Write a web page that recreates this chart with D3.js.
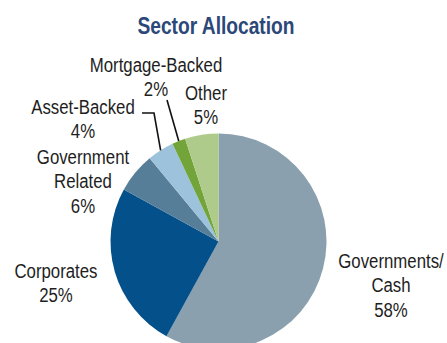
<!DOCTYPE html>
<html>
<head>
<meta charset="utf-8">
<script src="https://cdn.jsdelivr.net/npm/d3@7"></script>
<style>
  html, body { margin: 0; padding: 0; background: #fff; }
  svg { display: block; }
  text { font-family: "Liberation Sans", Arial, sans-serif; }
</style>
</head>
<body>
<svg id="chart" width="447" height="343"></svg>
<script>
// Sector weights, drawn clockwise from 12 o'clock
const sectors = ["Governments/Cash", "Corporates", "Government Related", "Asset-Backed", "Mortgage-Backed", "Other"];
const weights = [58, 25, 6, 4, 2, 5];
const sliceColors = ["#8aa0ae", "#03508a", "#577e99", "#9cc2dc", "#72a43a", "#afcb8c"];

// Label lines for each sector (name lines followed by the value)
const labelLines = [
  ["Governments/", "Cash"],
  ["Corporates"],
  ["Government", "Related"],
  ["Asset-Backed"],
  ["Mortgage-Backed"],
  ["Other"]
];
// Label anchor: centre x and first baseline y
const labelPos = [
  [391, 268],
  [56, 278],
  [83, 164],
  [83, 114],
  [156, 72],
  [206, 100]
];
const lineStep = 24.5;
const narrow = 0.8; // horizontal squeeze for a condensed type look

const width = 447, height = 343;
const cx = 218.5, cy = 241.5, radius = 108;

const svg = d3.select("#chart");

// Condensed text block centred at x
function condensed(x, size) {
  return svg.append("g")
    .attr("transform", `translate(${x},0) scale(${narrow},1)`)
    .append("text")
    .attr("text-anchor", "middle")
    .attr("font-size", size);
}

condensed(216, 24)
  .attr("y", 34)
  .attr("font-weight", "bold")
  .attr("fill", "#2b4878")
  .text("Sector Allocation");

const data = sectors.map((s, i) => ({ name: s, value: weights[i], i }));
const pie = d3.pie().value(d => d.value).sort(null);
const arcs = pie(data);
const arc = d3.arc().innerRadius(0).outerRadius(radius);
const rim = d3.arc().innerRadius(radius).outerRadius(radius);

const g = svg.append("g").attr("transform", `translate(${cx},${cy})`);
g.selectAll("path")
  .data(arcs)
  .join("path")
  .attr("d", arc)
  .attr("fill", d => sliceColors[d.data.i]);

// Leader lines for the two narrow slices
const leaders = {
  3: [[142, 113], [154, 113]],
  4: [[167, 100]]
};
Object.keys(leaders).forEach(k => {
  const a = arcs[+k];
  const [ex, ey] = rim.centroid(a);
  const pts = leaders[k].concat([[cx + ex, cy + ey]]);
  svg.append("path")
    .attr("d", d3.line()(pts))
    .attr("fill", "none")
    .attr("stroke", "#111")
    .attr("stroke-width", 1.6);
});

// Sector labels
data.forEach((d, i) => {
  const lines = labelLines[i].concat([d.value + "%"]);
  const t = condensed(labelPos[i][0], 21).attr("fill", "#1e1e1e");
  lines.forEach((ln, j) => {
    t.append("tspan")
      .attr("x", 0)
      .attr("y", labelPos[i][1] + j * lineStep)
      .text(ln);
  });
});
</script>
</body>
</html>
